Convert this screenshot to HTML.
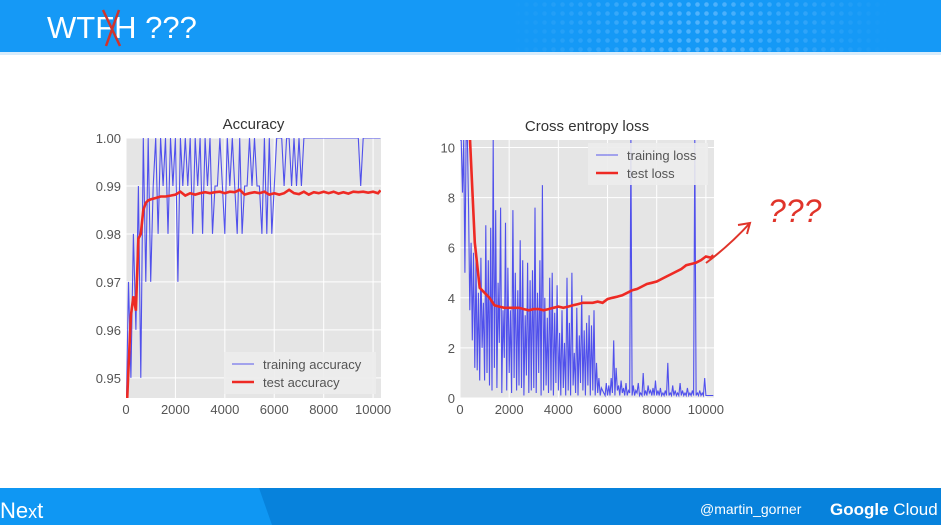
<!DOCTYPE html>
<html><head><meta charset="utf-8"><style>
body{margin:0;width:941px;height:525px;overflow:hidden;background:#fff;font-family:"Liberation Sans",sans-serif}
svg{display:block}
</style></head><body>
<svg id="s" width="941" height="525" xmlns="http://www.w3.org/2000/svg">
<defs>
<pattern id="dots" width="9" height="9" patternUnits="userSpaceOnUse"><circle cx="4.5" cy="4.5" r="2.3" fill="#6cc0ff" opacity="0.7"/></pattern>
<linearGradient id="fade" x1="0" x2="1"><stop offset="0" stop-color="#fff" stop-opacity="0"/><stop offset="0.5" stop-color="#fff" stop-opacity="1"/><stop offset="1" stop-color="#fff" stop-opacity="0"/></linearGradient>
<mask id="m"><rect x="510" y="0" width="380" height="52" fill="url(#fade)"/></mask>
</defs>
<rect x="0" y="0" width="941" height="52" fill="#1599f6"/>
<rect x="510" y="0" width="380" height="52" fill="url(#dots)" mask="url(#m)"/>
<rect x="0" y="52" width="941" height="3" fill="#d8ecfb"/>
<text x="47" y="38" fill="#fff" font-size="31" font-family="Liberation Sans,sans-serif">WTFH ???</text>
<path d="M103 10 L120 46 M119 10 L106 46" stroke="#d0342c" stroke-width="2.5" fill="none"/>

<rect x="0" y="488" width="941" height="37" fill="#0f97f3"/>
<polygon points="259,488 941,488 941,525 272,525" fill="#0782dc"/>
<text x="0" y="518" fill="#fff" font-size="22">Ne<tspan font-size="18">x</tspan>t</text>
<text x="700" y="514" fill="#fff" font-size="14">@martin_gorner</text>
<text x="830" y="515" fill="#fff" font-size="17"><tspan font-weight="bold">Google</tspan> Cloud</text>

<g id="acc"></g>
<g id="loss"></g>

<path d="M706 263 Q730 245 750 223" stroke="#e0342a" stroke-width="2" fill="none"/>
<path d="M738 225 L750 223 L747 234" stroke="#e0342a" stroke-width="2" fill="none"/>
<text x="768" y="222" fill="#e0342a" font-size="32" font-style="italic" font-family="Liberation Sans,sans-serif">???</text>
</svg>
<script>
// ---- Accuracy data ----
const accTrain = [0.94,0.97,0.95,0.98,0.96,0.99,0.95,1.00,0.97,1.00,0.97,0.99,1.00,0.98,1.00,0.99,1.00,0.98,1.00,0.99,
1.00,0.97,1.00,0.99,1.00,0.99,1.00,0.98,1.00,0.99,1.00,0.98,1.00,0.99,1.00,0.98,0.99,0.99,1.00,0.99,
0.98,1.00,0.99,1.00,0.99,0.98,1.00,0.98,0.99,0.99,1.00,0.99,1.00,0.99,0.99,0.98,1.00,0.98,1.00,0.98,
0.99,1.00,1.00,1.00,0.99,1.00,1.00,0.99,1.00,0.99,1.00,0.99,1.00,1.00,1.00,1.00,1.00,1.00,1.00,1.00,
1.00,1.00,1.00,1.00,1.00,1.00,1.00,1.00,1.00,1.00,1.00,1.00,1.00,1.00,1.00,0.99,1.00,1.00,1.00,1.00,
1.00,1.00,1.00,1.00];
const accTrainX = accTrain.map((v,i)=>i*100);
const accTestX = [0,100,200,300,400,500,600,700,800,900,1000,1200,1400,1600,1800,2000,2200,2400,2600,2800,3000,3200,3400,3600,3800,4000,4200,4400,4600,4800,5000,5200,5400,5600,5800,6000,6200,6400,6600,6800,7000,7200,7400,7600,7800,8000,8200,8400,8600,8800,9000,9200,9400,9600,9800,10000,10200,10300];
const accTest = [0.940,0.952,0.963,0.967,0.964,0.979,0.980,0.985,0.9865,0.987,0.9872,0.9875,0.9878,0.9878,0.988,0.9882,0.9888,0.988,0.9885,0.9882,0.9885,0.9887,0.9885,0.9887,0.9888,0.9885,0.9888,0.9887,0.9892,0.9882,0.9885,0.9887,0.9885,0.9888,0.9882,0.9885,0.9882,0.9885,0.9892,0.9885,0.9883,0.9888,0.9882,0.9887,0.9885,0.9888,0.9885,0.9888,0.9884,0.9887,0.9884,0.9888,0.9887,0.9888,0.9886,0.9888,0.9885,0.9891];
const accYTicks = [0.95,0.96,0.97,0.98,0.99,1.00];
const accXTicks = [0,2000,4000,6000,8000,10000];

// ---- Loss data ----
const lossTrain = [10.3,10.3,8.2,10.3,5.0,10.3,10.3,7.5,3.5,6.2,2.3,5.8,1.2,5.5,1.1,4.2,0.7,5.6,2.0,3.8,0.7,
6.9,1.0,5.5,0.5,6.8,0.3,10.3,1.2,7.5,0.4,4.6,2.2,7.6,0.2,3.5,1.6,7.0,0.3,5.2,1.0,
3.5,0.2,7.5,0.8,5.0,0.3,4.3,0.5,6.3,0.4,5.5,0.1,3.3,0.9,5.4,0.2,4.7,0.3,5.1,0.4,
7.6,0.2,4.2,1.0,5.5,0.1,8.5,0.3,4.0,0.5,3.2,0.2,4.8,0.3,5.0,0.1,3.4,0.6,4.5,0.3,
2.6,0.1,3.5,0.4,2.2,0.1,4.8,0.3,3.0,0.1,5.0,0.5,1.8,0.2,3.6,0.1,2.5,0.6,4.1,0.3,
2.7,0.1,3.0,0.5,3.3,0.1,2.9,0.3,3.5,0.1,1.4,0.2,0.8,0.1,0.4,0.3,0.2,0.1,0.6,0.1,
0.5,0.1,0.8,0.2,2.3,0.1,1.2,0.3,0.5,0.1,0.7,0.2,0.4,0.1,0.6,0.1,0.3,0.2,10.3,0.1,
0.5,0.1,0.3,0.2,0.6,0.1,0.2,0.1,1.0,0.1,0.3,0.1,0.5,0.2,0.3,0.1,0.4,0.1,0.7,0.1,
0.3,0.1,0.4,0.1,0.2,0.1,0.3,0.1,1.4,0.1,0.2,0.1,0.5,0.1,0.3,0.1,0.2,0.1,0.6,0.1,
0.3,0.1,0.2,0.1,0.4,0.1,0.2,0.1,0.3,0.1,10.3,0.1,0.2,0.1,0.3,0.1,0.2,0.1,0.8,0.1,
0.1,0.1,0.1,0.1,0.1,0.1];
const lossTrainX = lossTrain.map((v,i)=>i*50);
const lossTestX = [400,600,800,1000,1200,1400,1600,1800,2000,2200,2400,2600,2800,3000,3200,3400,3600,3800,4000,4200,4400,4600,4800,5000,5200,5400,5600,5800,6000,6200,6400,6600,6800,7000,7200,7400,7600,7800,8000,8200,8400,8600,8800,9000,9200,9400,9600,9800,10000,10200,10300];
const lossTest = [10.5,6.2,4.4,4.2,4.0,3.7,3.65,3.6,3.6,3.6,3.6,3.55,3.5,3.55,3.55,3.5,3.55,3.6,3.65,3.6,3.65,3.7,3.75,3.8,3.8,3.8,3.85,3.8,3.95,4.0,4.05,4.1,4.2,4.3,4.35,4.45,4.55,4.6,4.65,4.75,4.85,4.95,5.05,5.15,5.3,5.35,5.4,5.5,5.65,5.6,5.7];
const lossYTicks = [0,2,4,6,8,10];
const lossXTicks = [0,2000,4000,6000,8000,10000];

const NS='http://www.w3.org/2000/svg';
function mk(tag, attrs, parent){const e=document.createElementNS(NS,tag);for(const k in attrs)e.setAttribute(k,attrs[k]);parent.appendChild(e);return e;}

function chart(g, o){
  const sx=v=>o.x0+(v-o.xmin)/(o.xmax-o.xmin)*(o.x1-o.x0);
  const sy=v=>o.y1-(v-o.ymin)/(o.ymax-o.ymin)*(o.y1-o.y0);
  const bg=mk('rect',{x:o.x0,y:o.y0,width:o.x1-o.x0,height:o.y1-o.y0,fill:'#e5e5e5'},g);
  
  
  o.yt.forEach(v=>{
    mk('line',{x1:o.x0,x2:o.x1,y1:sy(v),y2:sy(v),stroke:'#fff','stroke-width':1},g);
    const t=mk('text',{x:o.x0-5,y:sy(v)+5,'text-anchor':'end','font-size':13,fill:'#555'},g);
    t.textContent=o.yfmt(v);
    
    
  });
  o.xt.forEach(v=>{
    mk('line',{x1:sx(v),x2:sx(v),y1:o.y0,y2:o.y1,stroke:'#fff','stroke-width':1},g);
    const t=mk('text',{x:sx(v),y:o.y1+16,'text-anchor':'middle','font-size':13,fill:'#555'},g);
    t.textContent=String(v);
    
    
  });
  const cp='cp'+o.id;
  const c=mk('clipPath',{id:cp},g); mk('rect',{x:o.x0,y:o.y0,width:o.x1-o.x0,height:o.y1-o.y0},c);
  const p1=mk('path',{d:o.tx.map((x,i)=>(i?'L':'M')+sx(x).toFixed(1)+' '+sy(o.tr[i]).toFixed(1)).join(' '),stroke:'#2a2aee','stroke-opacity':0.8,'stroke-width':1.1,fill:'none','clip-path':'url(#'+cp+')'},g);
  
  
  const p2=mk('path',{d:o.sx.map((x,i)=>(i?'L':'M')+sx(x).toFixed(1)+' '+sy(o.te[i]).toFixed(1)).join(' '),stroke:'#ee2a24','stroke-width':2.6,fill:'none','clip-path':'url(#'+cp+')'},g);
  
  
  const tt=mk('text',{x:(o.x0+o.x1)/2,y:o.y0-9,'text-anchor':'middle','font-size':15,fill:'#333'},g);
  tt.textContent=o.title;
  
  
  const L=o.leg;
  const lg=mk('g',{},g);
  
  
  mk('rect',{x:L.x,y:L.y,width:L.w,height:42,fill:'#ececec',opacity:0.9},lg);
  mk('line',{x1:L.x+8,x2:L.x+30,y1:L.y+12,y2:L.y+12,stroke:'#2a2aee','stroke-opacity':0.6,'stroke-width':1.2},lg);
  mk('line',{x1:L.x+8,x2:L.x+30,y1:L.y+30,y2:L.y+30,stroke:'#ee2a24','stroke-width':2.6},lg);
  const a=mk('text',{x:L.x+39,y:L.y+17,'font-size':13,fill:'#555'},lg); a.textContent=L.a;
  const b=mk('text',{x:L.x+39,y:L.y+35,'font-size':13,fill:'#555'},lg); b.textContent=L.b;
}
chart(document.getElementById('acc'),{id:'a',x0:126,x1:381,y0:138,y1:398,xmin:0,xmax:10320,ymin:0.9458,ymax:1.0,
  yt:accYTicks,xt:accXTicks,yfmt:v=>v.toFixed(2),tx:accTrainX,tr:accTrain,sx:accTestX,te:accTest,title:'Accuracy',
  leg:{x:224,y:352,w:152,a:'training accuracy',b:'test accuracy'}});
chart(document.getElementById('loss'),{id:'l',x0:460,x1:714,y0:140,y1:398,xmin:0,xmax:10330,ymin:0,ymax:10.3,
  yt:lossYTicks,xt:lossXTicks,yfmt:v=>String(v),tx:lossTrainX,tr:lossTrain,sx:lossTestX,te:lossTest,title:'Cross entropy loss',
  leg:{x:588,y:143,w:120,a:'training loss',b:'test loss'}});
</script>
</body></html>
